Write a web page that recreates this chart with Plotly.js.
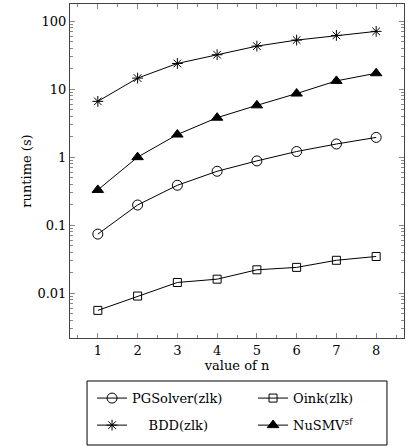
<!DOCTYPE html>
<html>
<head>
<meta charset="utf-8">
<script src="https://cdn.plot.ly/plotly-3.0.1.min.js"></script>
<style>html,body{margin:0;padding:0;background:#fff;}#chart{width:407px;height:447px;}</style>
</head>
<body>
<div id="chart"></div>
<script>
const nValues = [1, 2, 3, 4, 5, 6, 7, 8];
const pgsolver = [0.074, 0.198, 0.386, 0.62, 0.88, 1.21, 1.56, 1.95];
const oink = [0.0056, 0.0091, 0.0144, 0.0161, 0.0221, 0.024, 0.0305, 0.0347];
const bdd = [6.6, 14.5, 23.8, 32, 42.8, 52.5, 61.5, 70.5];
const nusmv = [0.33, 1.0, 2.15, 3.8, 5.77, 8.6, 13.2, 17.1];
const yTickVals = [0.01, 0.1, 1, 10, 100];
const yTickText = ['0.01', '0.1', '1', '10', '100'];

const FONT = 'DejaVu Serif, serif';
const FS = 13;
function tr(name, y, symbol, size, legend) {
  return {
    x: nValues, y: y, name: name, type: 'scatter', mode: 'lines+markers', legend: legend,
    line: {color: '#000', width: 1},
    marker: {symbol: symbol, size: size, color: '#000', line: {color: '#000', width: 1}}
  };
}
const data = [
  tr('PGSolver(zlk)', pgsolver, 'circle-open', 10, 'legend'),
  tr('Oink(zlk)', oink, 'square-open', 8, 'legend'),
  tr('\u00a0\u00a0\u00a0\u00a0BDD(zlk)', bdd, 'asterisk-open', 9, 'legend2'),
  tr('NuSMV<sup><span style="font-family:DejaVu Sans">sf</span></sup>', nusmv, 'triangle-up', 10, 'legend2')
];

const legendCommon = {
  orientation: 'h', xanchor: 'left', yanchor: 'middle', x: 0.066,
  bgcolor: 'rgba(0,0,0,0)', borderwidth: 0, entrywidth: 116, entrywidthmode: 'pixels',
  traceorder: 'normal', font: {family: FONT, size: FS}
};

const layout = {
  width: 407, height: 447,
  margin: {l: 70, r: 3, t: 4, b: 109, autoexpand: false},
  paper_bgcolor: '#fff', plot_bgcolor: '#fff',
  font: {family: FONT, size: FS, color: '#000'},
  showlegend: true,
  xaxis: {
    range: [0.3, 8.7], tickvals: nValues, ticks: 'inside', ticklen: 5, tickcolor: '#888',
    showline: true, linecolor: '#444', linewidth: 1, mirror: 'allticks', showgrid: false, zeroline: false,
    minor: {dtick: 0.5, tick0: 0.5, ticks: 'inside', ticklen: 3, tickcolor: '#888', showgrid: false},
    title: {text: 'value of n', standoff: 0, font: {family: FONT, size: FS}},
    tickfont: {family: FONT, size: FS}, automargin: false
  },
  yaxis: {
    type: 'log', range: [Math.log10(0.0022), Math.log10(178)],
    tickvals: yTickVals, ticktext: yTickText, ticks: 'inside', ticklen: 5, tickcolor: '#888',
    showline: true, linecolor: '#444', linewidth: 1, mirror: 'allticks', showgrid: false, zeroline: false,
    minor: {dtick: 'D1', ticks: 'inside', ticklen: 3, tickcolor: '#888', showgrid: false},
    title: {text: 'runtime (s)', standoff: 2, font: {family: FONT, size: FS}},
    tickfont: {family: FONT, size: FS}, automargin: false
  },
  legend: Object.assign({}, legendCommon, {y: -0.18}),
  legend2: Object.assign({}, legendCommon, {y: -0.261}),
  shapes: [{
    type: 'rect', xref: 'paper', yref: 'paper', x0: 0.051, x1: 0.949, y0: -0.1287, y1: -0.3204,
    line: {color: '#000', width: 1}, fillcolor: 'rgba(0,0,0,0)'
  }]
};
Plotly.newPlot('chart', data, layout, {staticPlot: true, displayModeBar: false});
</script>
</body>
</html>
